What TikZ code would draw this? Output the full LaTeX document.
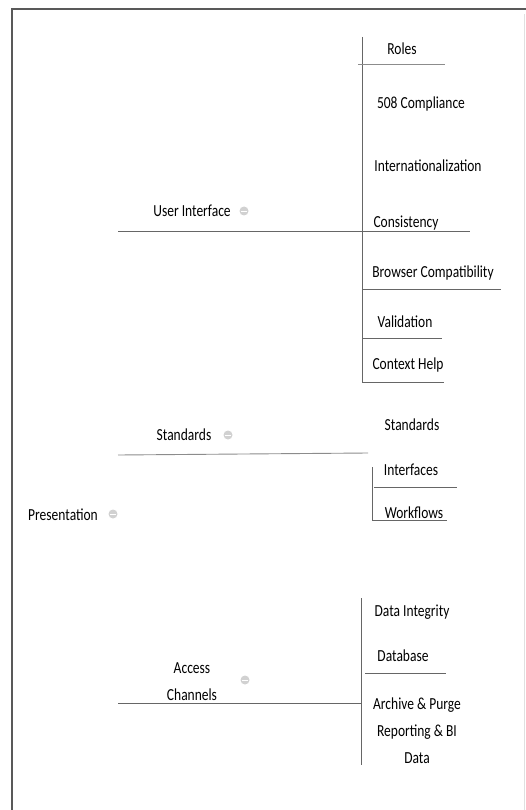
\documentclass[tikz,border=0pt]{standalone}
\usepackage{fontspec}
\usepackage{graphicx}
\setmainfont{Carlito}
\newcommand\tx[1]{\scalebox{1}[1.25]{#1}}
\begin{document}
\begin{tikzpicture}[x=1pt,y=-1pt,
  lbl/.style={inner sep=0pt,font=\fontsize{13.5}{16}\selectfont,text=black},
  ml/.style={lbl,align=center},
  link/.style={draw=black!60,line width=0.9pt},
  frame/.style={draw=black!65,line width=2pt},
  toggle/.style={circle,fill=black!18,minimum size=9pt,inner sep=0pt}
]
\useasboundingbox (0,0) rectangle (526,810);
% frame
\draw[frame] (12,810) -- (12,9) -- (526,9);
\draw[draw=black!12,line width=0.8pt] (524,14) -- (524,810);

% root
\node[lbl] (pres) at (63,515) {\tx{Presentation}};
\node[toggle] (tpres) at (113,514) {};
\draw[white,line width=0.8pt] (110,514) -- (116,514);

% branch: User Interface
\node[lbl] (ui) at (192,211) {\tx{User Interface}};
\node[toggle] (tui) at (244,211) {};
\draw[white,line width=0.8pt] (241,211) -- (247,211);
\coordinate (uis) at (118,231);
\coordinate (uij) at (362,231);
\coordinate (uitop) at (362,37);
\coordinate (uibot) at (362,382);
\draw[link] (uis) -- (uij);
\draw[link] (uitop) -- (uibot);

\node[lbl] (roles) at (402,49) {\tx{Roles}};
\node[lbl] (c508) at (421,104) {\tx{508 Compliance}};
\node[lbl] (intl) at (428,166) {\tx{Internationalization}};
\node[lbl] (cons) at (406,223) {\tx{Consistency}};
\node[lbl] (brow) at (433,273) {\tx{Browser Compatibility}};
\node[lbl] (vali) at (405,322) {\tx{Validation}};
\node[lbl] (ctx) at (408,365) {\tx{Context Help}};

\coordinate (r1) at (445,64);
\coordinate (r4) at (470,231);
\coordinate (r5) at (501,289);
\coordinate (r6) at (442,338);
\coordinate (r7) at (444,382);
\draw[link,draw=black!45] (358,64) -- (r1);
\draw[link] (uij) -- (r4);
\draw[link] (362,289) -- (r5);
\draw[link] (362,338) -- (r6);
\draw[link] (uibot) -- (r7);

% branch: Standards
\node[lbl] (std) at (184,435) {\tx{Standards}};
\node[toggle] (tstd) at (228,435) {};
\draw[white,line width=0.8pt] (225,435) -- (231,435);
\coordinate (sts) at (118,455);
\coordinate (stj) at (368,453);
\draw[link,draw=black!45] (sts) -- (stj);
\node[lbl] (std2) at (412,425) {\tx{Standards}};
\node[lbl] (intf) at (411,470) {\tx{Interfaces}};
\node[lbl] (wf) at (414,513) {\tx{Workflows}};
\coordinate (stt) at (372,467);
\coordinate (stb) at (372,520);
\draw[link] (stt) -- (stb);
\draw[link] (374,487) -- (457,487);
\draw[link] (stb) -- (447,520);

% branch: Access Channels
\node[ml] (acc) at (192,682) {\tx{Access}\\[11pt]\tx{Channels}};
\node[toggle] (tacc) at (245,680) {};
\draw[white,line width=0.8pt] (242,680) -- (248,680);
\coordinate (acs) at (118,703);
\coordinate (acj) at (361,703);
\coordinate (actop) at (361,598);
\coordinate (acbot) at (361,765);
\draw[link] (acs) -- (acj);
\draw[link] (actop) -- (acbot);
\node[lbl] (dint) at (412,612) {\tx{Data Integrity}};
\node[lbl] (db) at (403,656) {\tx{Database}};
\draw[link] (365,673) -- (446,673);
\node[ml] (arch) at (417,731) {\tx{Archive \& Purge}\\[11pt]\tx{Reporting \& BI}\\[11pt]\tx{Data}};
\end{tikzpicture}
\end{document}
